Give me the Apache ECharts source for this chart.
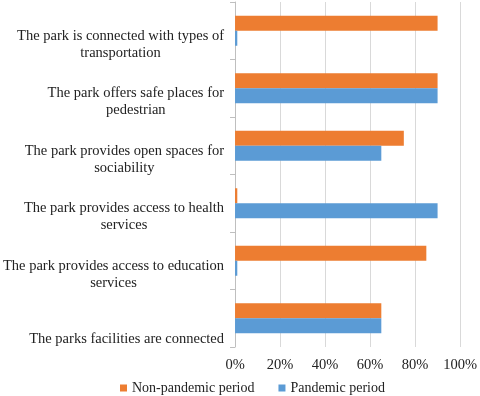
<!DOCTYPE html>
<html>
<head>
<meta charset="utf-8">
<script src="https://cdn.jsdelivr.net/npm/echarts@6/dist/echarts.min.js"></script>
<style>
  html, body { margin: 0; padding: 0; background: #fff; }
  #chart { width: 480px; height: 396px; }
</style>
</head>
<body>
<div id="chart"></div>
<script>
// categories, top to bottom as in the picture
var categories = [
    'The park is connected with types of\ntransportation',
    'The park offers safe places for\npedestrian',
    'The park provides open spaces for\nsociability',
    'The park provides access to health\nservices',
    'The park provides access to education\nservices',
    'The parks facilities are connected'
];
var nonPandemic = [90, 90, 75, 1, 85, 65];
var pandemic = [1, 90, 65, 90, 1, 65];
var xTicks = [0, 20, 40, 60, 80, 100];

var seriesNames = ['Non-pandemic period', 'Pandemic period'];
var colors = ['#ED7D31', '#5B9BD5'];

var FONT = "'Liberation Serif', 'Times New Roman', serif";

var myChart = echarts.init(document.getElementById('chart'));

// labels: each line centred inside a right-aligned block, pushed down like Excel does
var yData = categories.map(function (c) {
    var single = c.indexOf('\n') < 0;
    return {
        value: c,
        textStyle: { padding: single ? [41, 0, 0, 0] : [27, 0, 0, 0] }
    };
});

var option = {
    backgroundColor: '#fff',
    color: colors,
    animation: false,
    textStyle: { fontFamily: FONT },
    grid: {
        left: 235,
        right: 18,
        top: 2,
        bottom: 49
    },
    legend: {
        data: seriesNames,
        left: 115,
        top: 376,
        icon: 'rect',
        itemWidth: 7,
        itemHeight: 7,
        itemGap: 24,
        textStyle: {
            fontFamily: FONT,
            fontSize: 14,
            color: '#222'
        }
    },
    xAxis: {
        type: 'value',
        min: xTicks[0],
        max: xTicks[xTicks.length - 1],
        interval: 20,
        axisLine: { show: false },
        axisTick: { show: false },
        splitLine: { show: true, lineStyle: { color: '#d9d9d9', width: 1 } },
        axisLabel: {
            formatter: '{value}%',
            margin: 11,
            fontFamily: FONT,
            fontSize: 14.5,
            color: '#222'
        }
    },
    yAxis: {
        type: 'category',
        inverse: true,
        data: yData,
        axisLine: { show: true, lineStyle: { color: '#bfbfbf' } },
        axisTick: { show: true, length: 5, lineStyle: { color: '#bfbfbf' } },
        axisLabel: {
            interval: 0,
            showMinLabel: true,
            showMaxLabel: true,
            hideOverlap: false,
            margin: 11,
            fontFamily: FONT,
            fontSize: 14.5,
            lineHeight: 17,
            color: '#222',
            formatter: function (value) {
                return value.split('\n').map(function (s) {
                    return '{a|' + s + '}';
                }).join('\n');
            },
            rich: {
                a: {
                    align: 'center',
                    fontFamily: FONT,
                    fontSize: 14.5,
                    lineHeight: 17,
                    color: '#222'
                }
            }
        }
    },
    series: [
        {
            name: seriesNames[0],
            type: 'bar',
            data: nonPandemic,
            barWidth: 15,
            barGap: '0%'
        },
        {
            name: seriesNames[1],
            type: 'bar',
            data: pandemic,
            barWidth: 15,
            barGap: '0%'
        }
    ]
};

myChart.setOption(option);
window.onresize = myChart.resize;
</script>
</body>
</html>
